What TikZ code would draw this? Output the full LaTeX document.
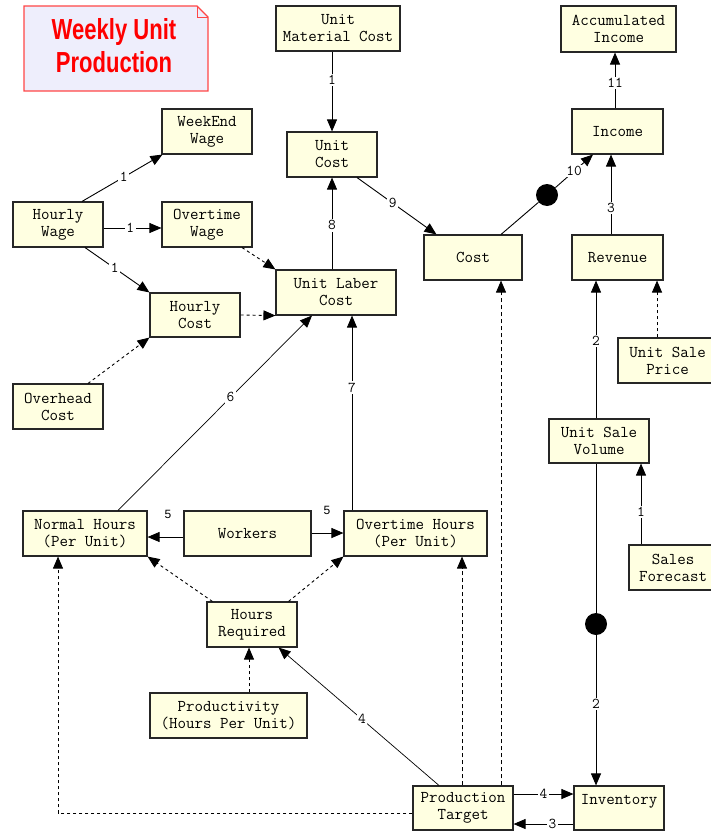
\documentclass[tikz,border=0pt]{standalone}
\usepackage{fontspec}
\usepackage{graphicx}
\newfontfamily\boxfont{Latin Modern Mono}
\newfontfamily\titlefont{Liberation Sans}
\newfontfamily\numfont{Liberation Sans}
\usetikzlibrary{arrows.meta,calc}
\definecolor{boxfill}{RGB}{255,255,225}
\definecolor{notefill}{RGB}{238,238,252}
\definecolor{notered}{RGB}{255,0,0}
\definecolor{noteedge}{RGB}{255,70,70}

\begin{document}
\begin{tikzpicture}[x=1pt,y=-1pt,
  box/.style={draw=black!85, line width=1.1pt, fill=boxfill, inner sep=0pt,
    align=center, font=\boxfont\fontsize{16.5}{17}\selectfont},
  lab/.style={fill=white, inner sep=1.5pt, font=\boxfont\fontsize{15}{15}\selectfont},
  freelab/.style={inner sep=0pt, font=\numfont\fontsize{12}{12}\selectfont},
  link/.style={line width=0.9pt},
  arr/.style={line width=0.9pt, -{Triangle[length=12pt,width=10pt]}},
  darr/.style={arr, dash pattern=on 3pt off 3pt},
  dot/.style={circle, fill=black, minimum size=22pt, inner sep=0pt}
]
\useasboundingbox (0,0) rectangle (711,832);
\clip (0,0) rectangle (711,832);

% title note with folded corner
\draw[draw=noteedge, line width=1.2pt, fill=notefill]
  (24,6) -- (197,6) -- (208,17) -- (208,91) -- (24,91) -- cycle;
\draw[noteedge, line width=0.9pt] (197,6) -- (197,17) -- (208,17);
\node[font=\titlefont\bfseries\fontsize{29}{33}\selectfont, text=notered, align=center]
  (title) at (114,46) {\scalebox{0.76}[1]{Weekly Unit}\\\scalebox{0.76}[1]{Production}};

% quantities
\node[box, minimum width=124, minimum height=45] (umc) at (338,28.5) {Unit\\Material Cost};
\node[box, minimum width=115, minimum height=46] (acc) at (618.5,29) {Accumulated\\Income};
\node[box, minimum width=90, minimum height=45] (weekend) at (207,131.5) {WeekEnd\\Wage};
\node[box, minimum width=90, minimum height=45] (ucost) at (332,154.5) {Unit\\Cost};
\node[box, minimum width=91, minimum height=45] (income) at (617.5,131.5) {Income};
\node[box, minimum width=90, minimum height=45] (hwage) at (58,224.5) {Hourly\\Wage};
\node[box, minimum width=90, minimum height=45] (owage) at (207,224.5) {Overtime\\Wage};
\node[box, minimum width=98, minimum height=45] (cost) at (473,257.5) {Cost};
\node[box, minimum width=91, minimum height=45] (revenue) at (617.5,257.5) {Revenue};
\node[box, minimum width=120, minimum height=45] (ulc) at (336,292.5) {Unit Laber\\Cost};
\node[box, minimum width=90, minimum height=44] (hcost) at (195,315) {Hourly\\Cost};
\node[box, minimum width=99, minimum height=45] (usp) at (667.5,360.5) {Unit Sale\\Price};
\node[box, minimum width=90, minimum height=45] (overhead) at (58,406.5) {Overhead\\Cost};
\node[box, minimum width=100, minimum height=44] (usv) at (599,441) {Unit Sale\\Volume};
\node[box, minimum width=124, minimum height=45] (nh) at (85,533.5) {Normal Hours\\(Per Unit)};
\node[box, minimum width=127, minimum height=45] (workers) at (247.5,533.5) {Workers};
\node[box, minimum width=143, minimum height=45] (oh) at (415.5,533.5) {Overtime Hours\\(Per Unit)};
\node[box, minimum width=88, minimum height=45] (sf) at (673,567.5) {Sales\\Forecast};
\node[box, minimum width=90, minimum height=45] (hr) at (252,624.5) {Hours\\Required};
\node[box, minimum width=157, minimum height=45] (prod) at (228.5,715.5) {Productivity\\(Hours Per Unit)};
\node[box, minimum width=100, minimum height=44] (pt) at (463,808) {Production\\Target};
\node[box, minimum width=90, minimum height=44] (inv) at (619,808) {Inventory\\\phantom{X}};

% junction dots
\node[dot] (d1) at (547,195) {};
\node[dot] (d2) at (596,624) {};

% wages
\draw[arr] ($(hwage.north)+(24,0)$) -- ($(weekend.south west)+(1,0)$) node[lab, pos=0.52] {1};
\draw[arr] (hwage.east |- 0,228) -- (owage.west |- 0,228) node[lab, pos=0.46] {1};
\draw[arr] ($(hwage.south)+(27,0)$) -- (hcost.north west) node[lab, pos=0.46] {1};
\draw[darr] ($(owage.south)+(35,0)$) -- (ulc.north west);
\draw[darr] ($(overhead.north)+(30,0)$) -- (hcost.south west);
\draw[darr] (hcost.east) -- (ulc.south west);

% unit cost
\draw[arr] (umc.south -| ucost) -- (ucost.north) node[lab, pos=0.36] {1};
\draw[arr] (ulc.north -| ucost) -- (ucost.south) node[lab, pos=0.48] {8};
\draw[arr] ($(ucost.south)+(25,0)$) -- ($(cost.north west)+(13,0)$) node[lab, pos=0.45] {9};

% income
\draw[link] ($(cost.north)+(28,0)$) -- (d1);
\draw[arr] (d1) -- ($(income.south)+(-24.5,0)$) node[lab, pos=0.5] {10};
\draw[arr] (revenue.north -| 611,0) -- (income.south -| 611,0) node[lab, pos=0.33] {3};
\draw[arr] (income.north -| 615,0) -- (acc.south -| 615,0) node[lab, pos=0.46] {11};

% sales
\draw[arr] (usv.north -| 596,0) -- (revenue.south -| 596,0) node[lab, pos=0.56] {2};
\draw[darr] (usp.north -| 657,0) -- (revenue.south -| 657,0);
\draw[arr] (sf.north -| 641,0) -- (usv.south -| 641,0) node[lab, pos=0.4] {1};
\draw[link] (usv.south -| d2) -- (d2);
\draw[arr] (d2) -- (inv.north -| d2) node[lab, pos=0.46] {2};

% production loop
\draw[arr] (pt.east |- 0,794) -- (inv.west |- 0,794) node[lab, pos=0.5] {4};
\draw[arr] (inv.west |- 0,824) -- (pt.east |- 0,824) node[lab, pos=0.35] {3};
\draw[darr, dash pattern=on 4pt off 3pt] (pt.north -| 501,0) -- (cost.south -| 501,0);
\draw[darr, dash pattern=on 4pt off 3pt] (pt.north -| 462,0) -- (oh.south -| 462,0);
\draw[darr] (pt.west |- 0,813) -| (nh.south -| 58,0);
\draw[arr, line width=0.7pt] ($(pt.north)+(-24,0)$) -- ($(hr.south east)+(-19,0)$) node[lab, pos=0.48] {4};
\draw[darr] (prod.north -| 249,0) -- (hr.south -| 249,0);

% hours
\draw[darr] ($(hr.north west)+(6,0)$) -- (nh.south east);
\draw[darr] ($(hr.north east)+(-9,0)$) -- (oh.south west);
\draw[arr] (workers.west |- 0,537) -- (nh.east |- 0,537);
\node[freelab] (l5a) at (168,514) {5};
\draw[arr] (workers.east |- 0,533) -- (oh.west |- 0,533);
\node[freelab] (l5b) at (327,510) {5};
\draw[arr, line width=0.7pt] ($(nh.north)+(33,0)$) -- ($(ulc.south)+(-24,0)$) node[lab, pos=0.58] {6};
\draw[arr] (oh.north -| 352,0) -- (ulc.south -| 352,0) node[lab, pos=0.63] {7};
\end{tikzpicture}
\end{document}
